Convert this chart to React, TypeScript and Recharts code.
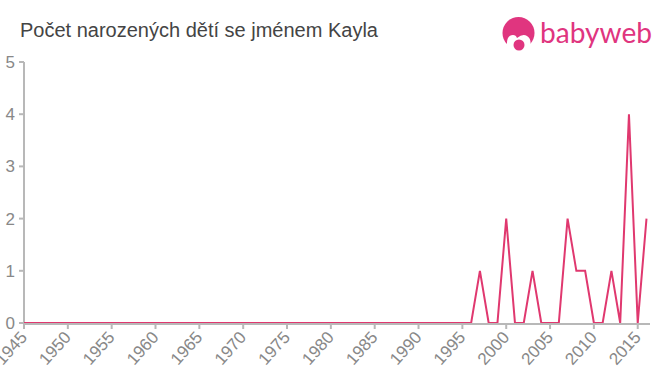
import { Line, LineChart, XAxis, YAxis } from "recharts";

const title = "Počet narozených dětí se jménem Kayla";

const years = [
  1945, 1946, 1947, 1948, 1949, 1950, 1951, 1952, 1953, 1954, 1955, 1956, 1957, 1958, 1959, 1960, 1961, 1962,
  1963, 1964, 1965, 1966, 1967, 1968, 1969, 1970, 1971, 1972, 1973, 1974, 1975, 1976, 1977, 1978, 1979, 1980,
  1981, 1982, 1983, 1984, 1985, 1986, 1987, 1988, 1989, 1990, 1991, 1992, 1993, 1994, 1995, 1996, 1997, 1998,
  1999, 2000, 2001, 2002, 2003, 2004, 2005, 2006, 2007, 2008, 2009, 2010, 2011, 2012, 2013, 2014, 2015, 2016,
];
const births = [
  0, 0, 0, 0, 0, 0, 0, 0, 0, 0, 0, 0, 0, 0, 0, 0, 0, 0,
  0, 0, 0, 0, 0, 0, 0, 0, 0, 0, 0, 0, 0, 0, 0, 0, 0, 0,
  0, 0, 0, 0, 0, 0, 0, 0, 0, 0, 0, 0, 0, 0, 0, 0, 1, 0,
  0, 2, 0, 0, 1, 0, 0, 0, 2, 1, 1, 0, 0, 1, 0, 4, 0, 2,
];
const xTicks = [1945, 1950, 1955, 1960, 1965, 1970, 1975, 1980, 1985, 1990, 1995, 2000, 2005, 2010, 2015];
const yTicks = [0, 1, 2, 3, 4, 5];

const data = years.map((year, i) => ({ year, births: births[i] }));

const FONT = "'Liberation Sans', Arial, sans-serif";
const PINK = "#e0386f";
const AXIS = "#b8b8b8";

function YearTick({ x, y, payload }: any) {
  return (
    <text
      x={0}
      y={0}
      transform={`translate(${x + 4},${y + 7}) rotate(-48)`}
      textAnchor="end"
      fontFamily={FONT}
      fontSize={17}
      fill="#888888"
    >
      {payload.value}
    </text>
  );
}

function Logo() {
  return (
    <svg width={170} height={55} style={{ position: "absolute", left: 490, top: 5 }}>
      <circle cx={28.5} cy={28} r={16} fill="#e0357f" />
      <path d="M17 42 Q16 30 23 30 Q26 30 27 33 Q33 28 37 31 Q42 34 40 42 L38 46 L19 46 Z" fill="#ffffff" />
      <circle cx={29} cy={40} r={5.5} fill="#e0357f" />
      <text x={50} y={38} fontFamily="Lato, sans-serif" fontSize={28} fill="#e0357f" textLength={112} lengthAdjust="spacingAndGlyphs">
        babyweb
      </text>
    </svg>
  );
}

export default function App() {
  return (
    <div style={{ position: "absolute", left: 0, top: 0, width: 660, height: 375, background: "#fff", overflow: "hidden" }}>
      <div style={{ position: "absolute", left: 20, top: 19, fontFamily: FONT, fontSize: 20, color: "#444444", whiteSpace: "nowrap" }}>
        {title}
      </div>
      <Logo />
      <LineChart width={660} height={375} data={data} margin={{ top: 62, right: 10, bottom: 0, left: 0 }}>
        <XAxis
          dataKey="year"
          type="number"
          domain={[1945, 2016.4]}
          ticks={xTicks}
          interval={0}
          allowDataOverflow
          tick={<YearTick />}
          tickSize={6}
          stroke={AXIS}
          strokeWidth={2}
          axisLine={{ stroke: AXIS, strokeWidth: 2, transform: "translate(0 1)" }}
          height={52}
        />
        <YAxis
          width={24}
          domain={[0, 5]}
          ticks={yTicks}
          interval={0}
          allowDataOverflow
          tickSize={5}
          stroke={AXIS}
          strokeWidth={2}
          tick={{ fontFamily: FONT, fontSize: 17, fill: "#888888" }}
          tickMargin={4}
        />
        <Line type="linear" dataKey="births" stroke={PINK} strokeWidth={2} dot={false} isAnimationActive={false} zIndex={800} />
      </LineChart>
    </div>
  );
}
